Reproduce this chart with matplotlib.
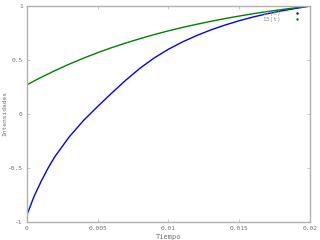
import numpy as np
import matplotlib.pyplot as plt
from matplotlib.lines import Line2D
from matplotlib.ticker import FuncFormatter

# tiempo (s) y corrientes
t = [0.000, 0.0005, 0.001, 0.0015, 0.002, 0.003, 0.004, 0.005, 0.006, 0.007, 0.008, 0.009, 0.010,
     0.011, 0.012, 0.013, 0.014, 0.015, 0.016, 0.017, 0.018, 0.019, 0.020]
i2 = [-0.935, -0.765, -0.625, -0.500, -0.390, -0.210, -0.060, 0.070, 0.195, 0.315, 0.425, 0.520, 0.600,
      0.668, 0.727, 0.779, 0.824, 0.864, 0.899, 0.929, 0.955, 0.978, 0.999]
i3 = [0.270, 0.305, 0.339, 0.371, 0.403, 0.462, 0.517, 0.568, 0.615, 0.658, 0.698, 0.736, 0.770,
      0.802, 0.831, 0.858, 0.884, 0.907, 0.929, 0.949, 0.967, 0.984, 1.000]

xticks = [0, 0.005, 0.01, 0.015, 0.02]
yticks = [-1, -0.5, 0, 0.5, 1]

gris = "#b0b0b0"
texto = "#707070"
plt.rcParams['font.family'] = ['DejaVu Sans Mono']

fig = plt.figure(figsize=(3.2, 2.4), dpi=100)
ax = fig.add_axes([0.084, 0.075, 0.885, 0.9])

ax.plot(t, i2, color="#0000ff", lw=1.0)
ax.plot(t, i3, color="#008000", lw=1.0)

ax.set_xlim(0, 0.02)
ax.set_ylim(-1, 1)
ax.set_xticks(xticks)
ax.set_yticks(yticks)
fmt = FuncFormatter(lambda v, p: "%g" % v)
ax.xaxis.set_major_formatter(fmt)
ax.yaxis.set_major_formatter(fmt)
ax.tick_params(direction="in", length=2, width=0.5, colors=gris, labelcolor=texto,
               labelsize=4.5, top=True, right=True, pad=3)
for s in ax.spines.values():
    s.set_color(gris)
    s.set_linewidth(1.0)

ax.set_xlabel("Tiempo", fontsize=5, color=texto, labelpad=2)
ax.set_ylabel("Intensidades", fontsize=4.5, color=texto)
ax.yaxis.set_label_coords(-0.068, 0.5)

handles = [Line2D([], [], color="#0000ff", marker=".", ms=1.5, ls="none"),
           Line2D([], [], color="#008000", marker=".", ms=1.5, ls="none")]
ax.legend(handles, ["I2(t)", "I3(t)"], loc="upper right", frameon=False,
          markerfirst=False, fontsize=4.5, labelcolor="#909090", handlelength=2,
          handletextpad=1.5, labelspacing=0.2, borderaxespad=0.3,
          bbox_to_anchor=(0.99, 1.0))

fig.savefig("out.png", dpi=100)
